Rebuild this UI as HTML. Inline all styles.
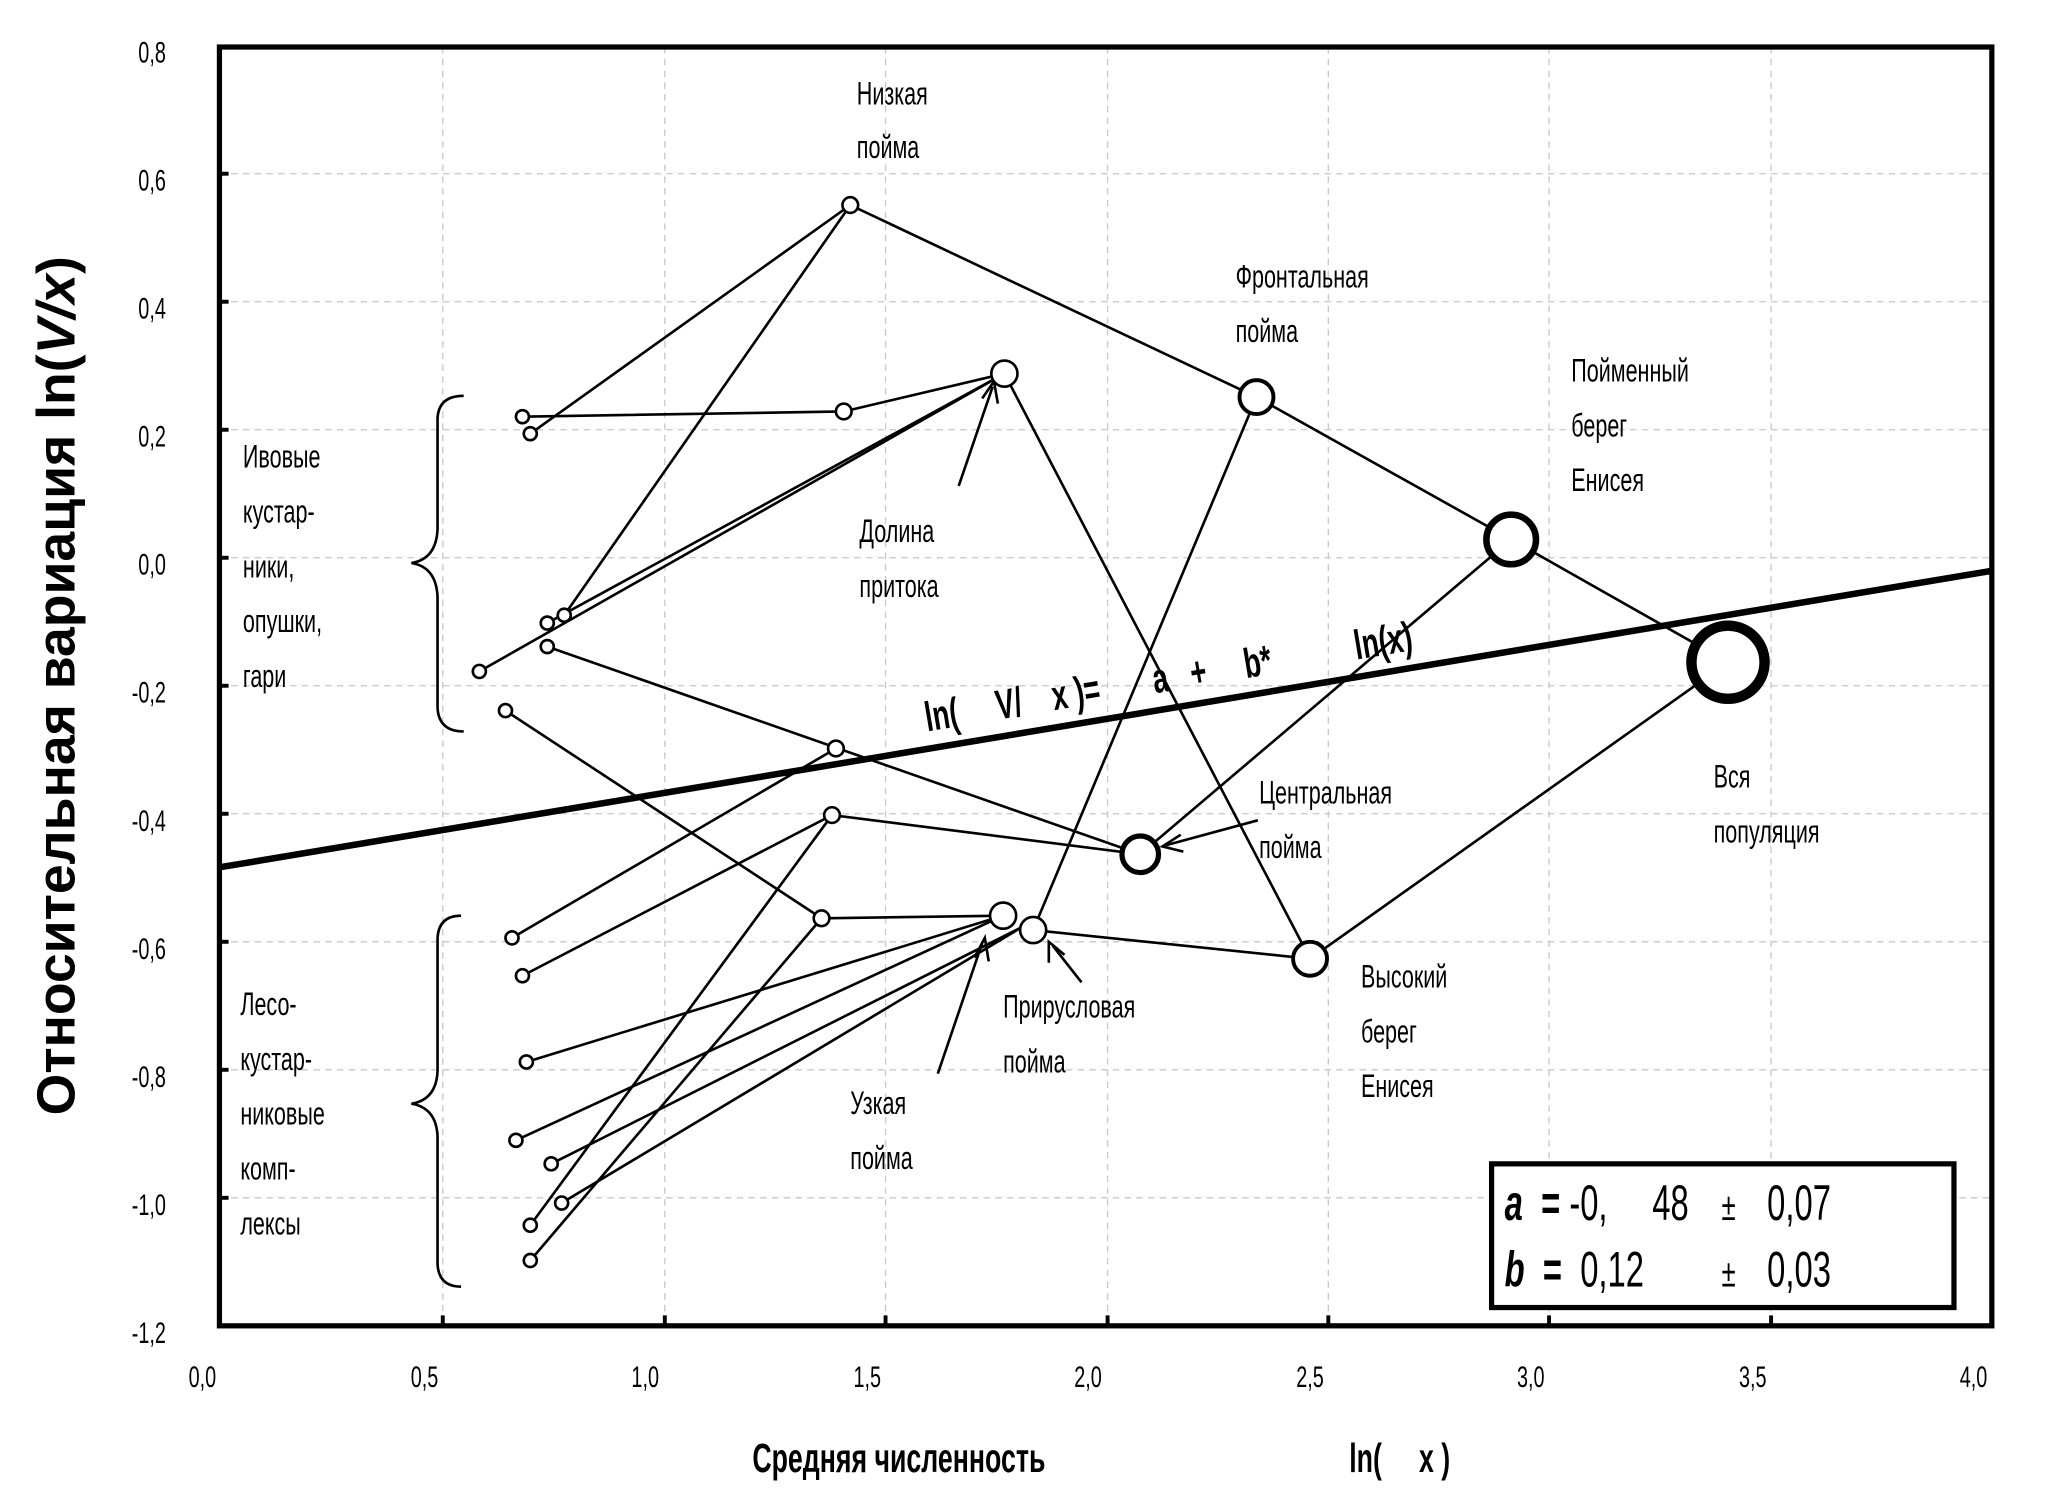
<!DOCTYPE html>
<html><head><meta charset="utf-8"><style>
html,body{margin:0;padding:0;background:#fff;}
svg{display:block;}
text{font-family:"Liberation Sans Narrow","Liberation Sans",sans-serif;fill:#000;transform-box:fill-box;transform:scaleX(0.66);transform-origin:left center;}
text.e{transform-origin:right center;}
text.m{transform-origin:center center;}
text.ax{transform:none;}
</style></head><body>
<svg width="2048" height="1510" viewBox="0 0 1568 1156" preserveAspectRatio="none" xmlns="http://www.w3.org/2000/svg">
<rect width="1568" height="1156" fill="#fff"/>
<g stroke="#c8c8c8" stroke-width="1" stroke-dasharray="5,4">
<line x1="339" y1="36" x2="339" y2="1015"/><line x1="509" y1="36" x2="509" y2="1015"/><line x1="678" y1="36" x2="678" y2="1015"/><line x1="848" y1="36" x2="848" y2="1015"/><line x1="1017" y1="36" x2="1017" y2="1015"/><line x1="1186" y1="36" x2="1186" y2="1015"/><line x1="1356" y1="36" x2="1356" y2="1015"/>
<line x1="168" y1="133" x2="1525" y2="133"/><line x1="168" y1="231" x2="1525" y2="231"/><line x1="168" y1="329" x2="1525" y2="329"/><line x1="168" y1="427" x2="1525" y2="427"/><line x1="168" y1="525" x2="1525" y2="525"/><line x1="168" y1="623" x2="1525" y2="623"/><line x1="168" y1="721" x2="1525" y2="721"/><line x1="168" y1="819" x2="1525" y2="819"/><line x1="168" y1="917" x2="1525" y2="917"/>
</g>
<rect x="168" y="36" width="1357" height="979" fill="none" stroke="#000" stroke-width="4"/>
<g stroke="#000" stroke-width="3">
<line x1="168" y1="133" x2="175" y2="133"/><line x1="168" y1="231" x2="175" y2="231"/><line x1="168" y1="329" x2="175" y2="329"/><line x1="168" y1="427" x2="175" y2="427"/><line x1="168" y1="525" x2="175" y2="525"/><line x1="168" y1="623" x2="175" y2="623"/><line x1="168" y1="721" x2="175" y2="721"/><line x1="168" y1="819" x2="175" y2="819"/><line x1="168" y1="917" x2="175" y2="917"/>
<line x1="339" y1="1015" x2="339" y2="1007"/><line x1="509" y1="1015" x2="509" y2="1007"/><line x1="678" y1="1015" x2="678" y2="1007"/><line x1="848" y1="1015" x2="848" y2="1007"/><line x1="1017" y1="1015" x2="1017" y2="1007"/><line x1="1186" y1="1015" x2="1186" y2="1007"/><line x1="1356" y1="1015" x2="1356" y2="1007"/>
</g>
<g font-size="23" text-anchor="end">
<text class="e" x="127" y="48">0,8</text><text class="e" x="127" y="146">0,6</text><text class="e" x="127" y="244">0,4</text><text class="e" x="127" y="342">0,2</text><text class="e" x="127" y="440">0,0</text><text class="e" x="127" y="538">-0,2</text><text class="e" x="127" y="636">-0,4</text><text class="e" x="127" y="734">-0,6</text><text class="e" x="127" y="832">-0,8</text><text class="e" x="127" y="930">-1,0</text><text class="e" x="127" y="1028">-1,2</text>
</g>
<g font-size="23" text-anchor="middle">
<text class="m" x="155" y="1062">0,0</text><text class="m" x="325" y="1062">0,5</text><text class="m" x="494" y="1062">1,0</text><text class="m" x="664" y="1062">1,5</text><text class="m" x="833" y="1062">2,0</text><text class="m" x="1003" y="1062">2,5</text><text class="m" x="1172" y="1062">3,0</text><text class="m" x="1342" y="1062">3,5</text><text class="m" x="1511" y="1062">4,0</text>
</g>
<text x="576" y="1127" font-size="31" font-weight="bold">Средняя численность</text>
<text x="1033" y="1127" font-size="31" font-weight="bold">ln(&#160;&#160;&#160;&#160;&#160;x )</text>
<g transform="translate(57,525) rotate(-90)"><text class="ax" x="0" y="0" font-size="41" font-weight="bold" text-anchor="middle" style="font-family:'Liberation Sans',sans-serif">Относительная вариация ln(<tspan font-style="italic">V/x</tspan>)</text></g>
<line x1="168" y1="664" x2="1525" y2="437" stroke="#000" stroke-width="5"/>
<g stroke="#000" stroke-width="2" fill="none">
<polyline points="406,332 651,157 962,304 1157,413 1323,507 1003,734 769,286"/>
<polyline points="400,319 646,315 769,286"/>
<line x1="432" y1="471" x2="651" y2="157"/>
<line x1="419" y1="477" x2="769" y2="286"/>
<line x1="367" y1="514" x2="769" y2="286"/>
<line x1="419" y1="495" x2="873" y2="654"/>
<line x1="392" y1="718" x2="640" y2="573"/>
<polyline points="387,544 629,703 768,701"/>
<line x1="791" y1="712" x2="1003" y2="734"/>
<polyline points="400,747 637,624 873,654 1157,413"/>
<line x1="791" y1="712" x2="962" y2="304"/>
<line x1="403" y1="813" x2="768" y2="701"/>
<line x1="395" y1="873" x2="768" y2="701"/>
<line x1="422" y1="891" x2="782" y2="710"/>
<line x1="430" y1="921" x2="782" y2="710"/>
<line x1="406" y1="938" x2="637" y2="624"/>
<line x1="406" y1="965" x2="629" y2="703"/>
<line x1="734" y1="372" x2="760" y2="296"/><polyline points="752,305 761,292 764,309"/>
<line x1="963" y1="628" x2="893" y2="647"/><polyline points="904,639 890,648 906,652"/>
<line x1="718" y1="822" x2="752" y2="722"/><polyline points="746,733 754,718 757,736"/>
<line x1="828" y1="752" x2="806" y2="724"/><polyline points="803,737 803,721 815,731"/>
<path d="M355,303 Q336,303 335,320 L335,405 Q334,428 315,431 Q334,434 335,457 L335,542 Q336,560 355,560"/>
<path d="M353,701 Q336,701 335,718 L335,820 Q334,842 315,845 Q334,848 335,870 L335,968 Q336,985 353,985"/>
</g>
<g stroke="#000" fill="#fff">
<circle cx="651" cy="157" r="6" stroke-width="2"/>
<circle cx="400" cy="319" r="5" stroke-width="2"/><circle cx="406" cy="332" r="5" stroke-width="2"/>
<circle cx="646" cy="315" r="6" stroke-width="2"/>
<circle cx="769" cy="286" r="10" stroke-width="2"/>
<circle cx="962" cy="304" r="13" stroke-width="3"/>
<circle cx="1157" cy="413" r="19" stroke-width="5"/>
<circle cx="1323" cy="507" r="28" stroke-width="8"/>
<circle cx="419" cy="477" r="5" stroke-width="2"/><circle cx="432" cy="471" r="5" stroke-width="2"/>
<circle cx="367" cy="514" r="5" stroke-width="2"/><circle cx="419" cy="495" r="5" stroke-width="2"/>
<circle cx="387" cy="544" r="5" stroke-width="2"/>
<circle cx="640" cy="573" r="6" stroke-width="2"/><circle cx="637" cy="624" r="6" stroke-width="2"/>
<circle cx="873" cy="654" r="14" stroke-width="4"/>
<circle cx="1003" cy="734" r="13" stroke-width="3"/>
<circle cx="629" cy="703" r="6" stroke-width="2"/>
<circle cx="768" cy="701" r="10" stroke-width="2"/><circle cx="791" cy="712" r="10" stroke-width="2"/>
<circle cx="392" cy="718" r="5" stroke-width="2"/><circle cx="400" cy="747" r="5" stroke-width="2"/>
<circle cx="403" cy="813" r="5" stroke-width="2"/><circle cx="395" cy="873" r="5" stroke-width="2"/>
<circle cx="422" cy="891" r="5" stroke-width="2"/><circle cx="430" cy="921" r="5" stroke-width="2"/>
<circle cx="406" cy="938" r="5" stroke-width="2"/><circle cx="406" cy="965" r="5" stroke-width="2"/>
</g>
<g font-size="25">
<text x="656" y="80">Низкая</text><text x="656" y="121">пойма</text>
<text x="946" y="220">Фронтальная</text><text x="946" y="262">пойма</text>
<text x="1203" y="292">Пойменный</text><text x="1203" y="334">берег</text><text x="1203" y="376">Енисея</text>
<text x="658" y="415">Долина</text><text x="658" y="457">притока</text>
<text x="964" y="615">Центральная</text><text x="964" y="657">пойма</text>
<text x="1312" y="603">Вся</text><text x="1312" y="645">популяция</text>
<text x="1042" y="756">Высокий</text><text x="1042" y="798">берег</text><text x="1042" y="840">Енисея</text>
<text x="768" y="779">Прирусловая</text><text x="768" y="821">пойма</text>
<text x="651" y="853">Узкая</text><text x="651" y="895">пойма</text>
<text x="186" y="358">Ивовые</text><text x="186" y="400">кустар-</text><text x="186" y="442">ники,</text><text x="186" y="484">опушки,</text><text x="186" y="526">гари</text>
<text x="184" y="777">Лесо-</text><text x="184" y="819">кустар-</text><text x="184" y="861">никовые</text><text x="184" y="903">комп-</text><text x="184" y="945">лексы</text>
</g>
<g transform="translate(710,560) rotate(-9.5)"><text x="0" y="0" font-size="32" font-weight="bold">ln(&#160;&#160;&#160;&#160;&#160;V/&#160;&#160;&#160;&#160;x )=&#160;&#160;&#160;&#160;&#160;&#160;&#160;a&#160;&#160;&#160;+&#160;&#160;&#160;&#160;&#160;b*&#160;&#160;&#160;&#160;&#160;&#160;&#160;&#160;&#160;&#160;&#160;ln(x)</text></g>
<rect x="1142" y="891" width="354" height="110" fill="#fff" stroke="#000" stroke-width="4"/>
<g font-size="38">
<text x="1152" y="934"><tspan font-weight="bold" font-style="italic">a</tspan>&#160; <tspan font-weight="bold">=</tspan> -0,</text>
<text x="1265" y="934">48</text><text x="1318" y="934" font-size="30">±</text><text x="1353" y="934">0,07</text>
<text x="1152" y="985"><tspan font-weight="bold" font-style="italic">b</tspan>&#160; <tspan font-weight="bold">=</tspan>&#160; 0,12</text>
<text x="1318" y="985" font-size="30">±</text><text x="1353" y="985">0,03</text>
</g>
</svg>
</body></html>
